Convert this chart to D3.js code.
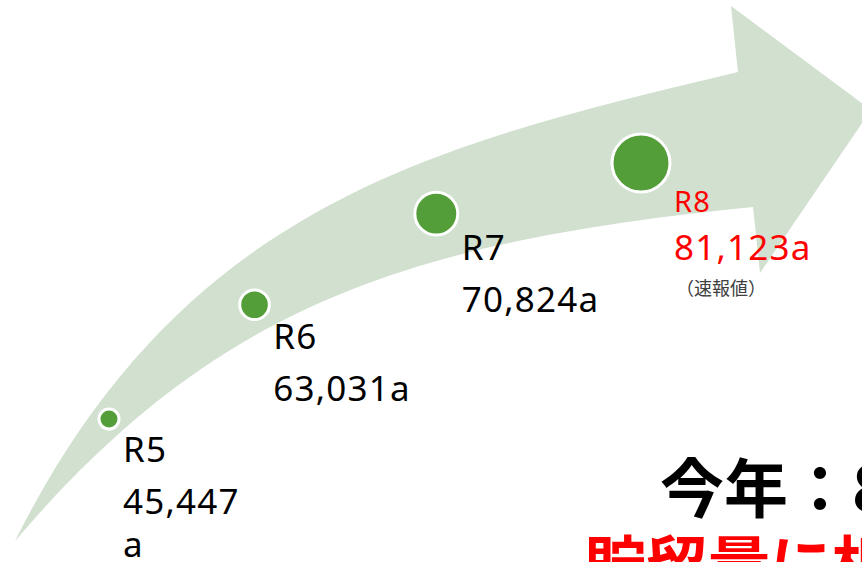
<!DOCTYPE html>
<html>
<head>
<meta charset="utf-8">
<script src="https://cdn.jsdelivr.net/npm/d3@7"></script>
<style>
  html, body { margin: 0; padding: 0; background: #ffffff; overflow: hidden; }
</style>
</head>
<body>
<div id="chart"></div>
<script>
// data
const categories = ["R5", "R6", "R7", "R8"];
const values = [45447, 63031, 70824, 81123];
const noteText = "（速報値）";
const headline = "今年：81,123a";
const subline = "貯留量に相当";

let svgWidth = 862;
let svgHeight = 562;

let svg = d3.select("#chart")
  .append("svg")
  .attr("width", svgWidth)
  .attr("height", svgHeight);

// big curved arrow in the background
let arrow = d3.path();
arrow.moveTo(15, 541);
arrow.bezierCurveTo(185, 201, 438, 144, 738, 72);
arrow.lineTo(731, 6);
arrow.lineTo(871, 110);
arrow.lineTo(760, 273);
arrow.lineTo(753, 207);
arrow.bezierCurveTo(403, 242, 215, 307, 15, 541);
arrow.closePath();

svg.append("path")
  .attr("d", arrow.toString())
  .attr("fill", "#d1e0cf");

// track the points sit on (not drawn)
let track = d3.path();
track.moveTo(109, 419);
track.quadraticCurveTo(338, 204, 641, 163);

let trackPath = svg.append("path")
  .attr("d", track.toString())
  .attr("fill", "none")
  .attr("stroke", "none");

let trackLen = trackPath.node().getTotalLength();

// position along the track and size of each point (spacing grows a little)
let posScale = d3.scalePow()
  .exponent(1.07)
  .domain([0, categories.length - 1])
  .range([0, trackLen]);

let rScale = d3.scalePow()
  .exponent(1.25)
  .domain([0, categories.length - 1])
  .range([10, 29]);

let fmt = d3.format(",");

let points = categories.map((c, i) => {
  let p = trackPath.node().getPointAtLength(posScale(i));
  return { cat: c, value: values[i], x: p.x, y: p.y, r: rScale(i), last: i === categories.length - 1, first: i === 0 };
});

// circles
svg.selectAll("circle.pt")
  .data(points)
  .enter()
  .append("circle")
  .attr("class", "pt")
  .attr("cx", d => d.x)
  .attr("cy", d => d.y)
  .attr("r", d => d.r)
  .attr("fill", "#549e39")
  .attr("stroke", "#ffffff")
  .attr("stroke-width", 3);

// labels
let labels = svg.selectAll("g.lbl")
  .data(points)
  .enter()
  .append("g")
  .attr("class", "lbl")
  .attr("transform", d => `translate(${d.x + d.r + 4}, ${d.y + 40 + d.r * 0.3})`)
  .style("font-family", "'Noto Sans', sans-serif")
  .style("letter-spacing", "1.2px")
  .style("fill", d => d.last ? "#ff0000" : "#000000");

labels.append("text")
  .attr("x", 0)
  .attr("y", 0)
  .style("font-size", d => d.last ? "29px" : "35px")
  .text(d => d.cat);

labels.append("text")
  .attr("x", 0)
  .attr("y", d => d.last ? 48 : 52)
  .style("font-size", "35px")
  .each(function (d) {
    let t = d3.select(this);
    // the first label is too narrow for its box and wraps the unit
    if (d.first) {
      t.append("tspan").attr("x", 0).text(fmt(d.value));
      t.append("tspan").attr("x", 0).attr("dy", 43).text("a");
    } else {
      t.text(fmt(d.value) + "a");
    }
  });

labels.filter(d => d.last)
  .append("text")
  .attr("x", 2)
  .attr("y", 83)
  .style("font-family", "'Noto Sans CJK JP', sans-serif")
  .style("letter-spacing", "0px")
  .style("font-size", "18px")
  .style("fill", "#404040")
  .text(noteText);

// headline at bottom right
svg.append("text")
  .attr("x", 660)
  .attr("y", 512)
  .style("font-family", "'Noto Sans CJK JP', sans-serif")
  .style("font-weight", "bold")
  .style("font-size", "64px")
  .style("fill", "#000000")
  .text(headline);

svg.append("text")
  .attr("x", 584)
  .attr("y", 588)
  .style("font-family", "'Noto Sans CJK JP', sans-serif")
  .style("font-weight", "bold")
  .style("font-size", "62px")
  .style("fill", "#ff0000")
  .text(subline);
</script>
</body>
</html>
